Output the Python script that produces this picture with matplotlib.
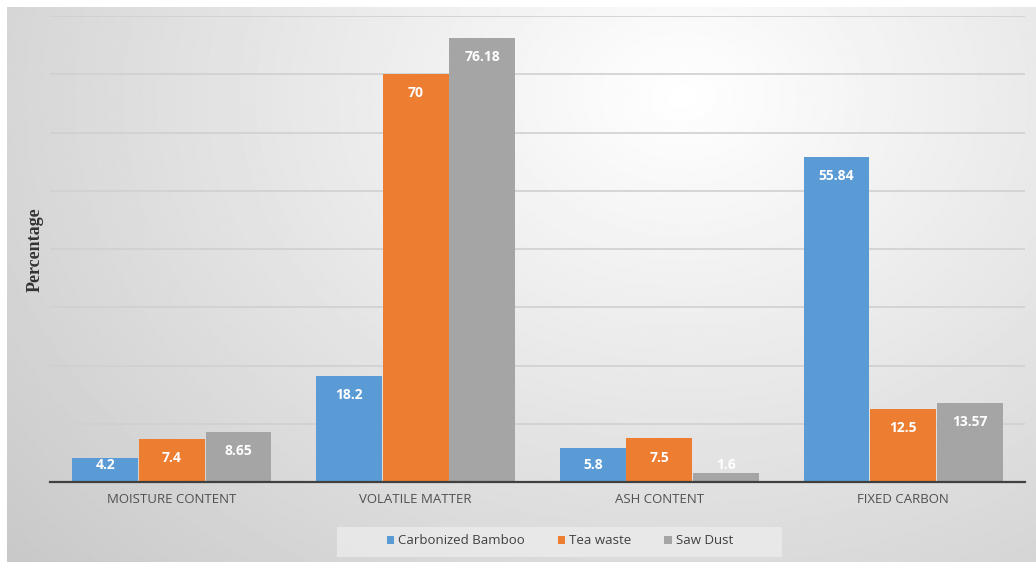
import numpy as np
import matplotlib
matplotlib.use("Agg")
import matplotlib.pyplot as plt
from matplotlib.patches import Rectangle

categories = ["MOISTURE CONTENT", "VOLATILE MATTER", "ASH CONTENT", "FIXED CARBON"]
series_names = ["Carbonized Bamboo", "Tea waste", "Saw Dust"]
bamboo = [4.2, 18.2, 5.8, 55.84]
tea = [7.4, 70, 7.5, 12.5]
sawdust = [8.65, 76.18, 1.6, 13.57]
colors = ["#5B9BD5", "#ED7D31", "#A5A5A5"]

W, H = 1036, 562
fig = plt.figure(figsize=(W / 100, H / 100), dpi=100)

# radial gradient background (white frame at top / left like the screenshot)
bg = fig.add_axes([7 / W, 0, 1 - 7 / W, 1 - 7 / H])
yy, xx = np.mgrid[0:H, 0:W]
d = np.sqrt(((xx - 680) / 720.0) ** 2 + ((yy - 90) / 560.0) ** 2)
shade = np.clip(1.0 - 0.17 * d, 0.76, 1.0)
bg.imshow(shade, cmap="gray", vmin=0, vmax=1, aspect="auto", interpolation="bilinear")
bg.axis("off")

ax = fig.add_axes([50 / W, 1 - 482 / H, 975 / W, 466 / H])
ax.patch.set_alpha(0)

x = np.arange(len(categories))
bw = 0.27
for i, (vals, name) in enumerate(zip([bamboo, tea, sawdust], series_names)):
    pos = x + (i - 1) * (bw + 0.003)
    ax.bar(pos, vals, bw, color=colors[i], label=name, zorder=3)
    for xp, v in zip(pos, vals):
        ax.text(xp, max(v - 3.3, 3.0), f"{v:g}", ha="center", va="center",
                color="white", fontsize=10, fontweight="bold",
                family="Open Sans", zorder=4)

ax.set_ylim(0, 80)
ax.set_xlim(-0.5, 3.5)
ax.set_yticks(np.arange(10, 81, 10))
ax.yaxis.grid(True, color="#d0d0d0", linewidth=1.2, zorder=0)
ax.tick_params(axis="y", length=0, labelleft=False)
ax.tick_params(axis="x", length=0, pad=8)
ax.set_xticks(x)
ax.set_xticklabels(categories, fontsize=9.5, color="#505050", family="Open Sans")
for s in ["top", "right", "left"]:
    ax.spines[s].set_visible(False)
ax.spines["bottom"].set_color("#404040")
ax.spines["bottom"].set_linewidth(1.6)
ax.spines["bottom"].set_zorder(5)

fig.text(35 / W, 1 - 250 / H, "Percentage", rotation=90, ha="center", va="center",
         fontsize=13, fontweight="bold", family="Liberation Serif", color="#333333")

# legend box
fig.patches.append(Rectangle((337 / W, 1 - 557 / H), 445 / W, 30 / H,
                             transform=fig.transFigure, facecolor="#eeeeee",
                             edgecolor="none", alpha=0.7))
leg = fig.legend(loc="center", bbox_to_anchor=(560 / W, 1 - 541 / H), ncol=3,
                 frameon=False, handlelength=0.55, handleheight=0.55,
                 handletextpad=0.3, columnspacing=2.5,
                 prop={"family": "Open Sans", "size": 9.5})
for t in leg.get_texts():
    t.set_color("#404040")

fig.savefig("out.png", dpi=100)
